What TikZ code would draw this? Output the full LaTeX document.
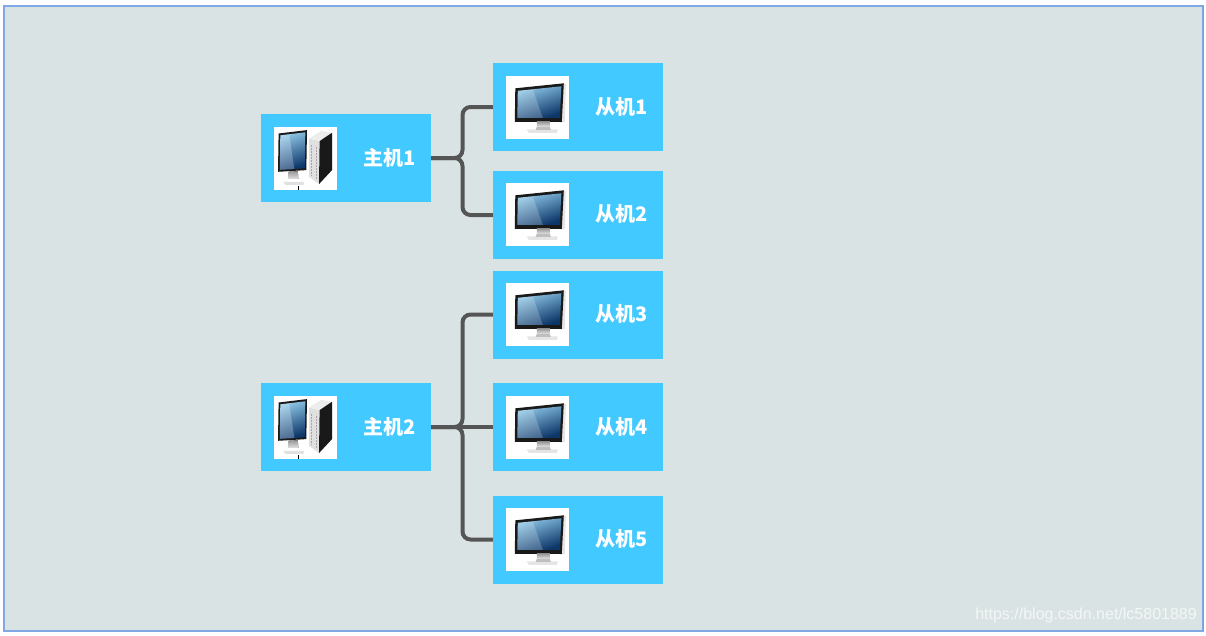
\documentclass[tikz,border=0pt]{standalone}
\usepackage{fontspec}
\newfontfamily\cjk{Noto Sans CJK SC}
\setsansfont{Liberation Sans}
\definecolor{paneback}{HTML}{DAE3E3}
\definecolor{paneline}{HTML}{7FA8E4}
\definecolor{boxblue}{HTML}{42C9FF}
\definecolor{linkgray}{HTML}{555555}
\definecolor{screenlight}{HTML}{8CC4E4}
\definecolor{screendark}{HTML}{0C3568}
\tikzset{
	hostbox/.style={fill=boxblue, minimum width=170pt, minimum height=88pt, inner sep=0pt},
	iconbox/.style={fill=white, minimum width=63pt, minimum height=63pt, inner sep=0pt},
	hostlabel/.style={text=white, inner sep=0pt, font=\cjk\bfseries\fontsize{20}{24}\selectfont},
	link/.style={draw=linkgray, line width=4pt, rounded corners=8pt},
	slavescreen/.pic={
		\fill [black!10] (54,9) -- (60,8) -- (59,46) -- (54,47) -- cycle;
		\fill [black!90] (9.5,12.5) -- (58,7.5) -- (56,46) -- (9,46) -- cycle;
		\fill [top color=black!40, bottom color=black!10] (31,46) -- (44,46) -- (44,51) -- (31,51) -- cycle;
		\fill [black!10] (21,53.5) -- (52,53.5) -- (51,57) -- (23,57) -- cycle;
		\fill [black!25] (31,51) -- (44,51) -- (45,54) -- (30,54) -- cycle;
		\shade [left color=screenlight, right color=screendark, shading angle=20]
			(12,15) -- (55.5,10.5) -- (54,42) -- (11.5,42) -- cycle;
		\fill [white, opacity=.2] (12,15) -- (27,13.5) -- (37,42) -- (11.5,42) -- cycle;
	},
	hostscreen/.pic={
		\fill [black!90] (5.3,6.7) -- (33.7,3.3) -- (33,43.3) -- (4.7,45) -- cycle;
		\shade [left color=screenlight, right color=screendark, shading angle=20]
			(7,8.5) -- (32,5.5) -- (31.5,41.5) -- (6.5,43) -- cycle;
		\fill [white, opacity=.25] (7,8.5) -- (16,7.5) -- (21,42.3) -- (6.5,43) -- cycle;
		\fill [top color=black!40, bottom color=black!12] (15,45) -- (24.5,44.5) -- (25,52) -- (15,52) -- cycle;
		\fill [black!12] (10,55) -- (31,55) -- (30,58) -- (12,58) -- cycle;
		\fill [black!12] (35.7,11.7) -- (46.3,14.3) -- (45.7,57.3) -- (35.7,50) -- cycle;
		\draw [black!35, line width=.7pt, dash pattern=on 2pt off 1pt] (38,18) -- (38,49);
		\draw [black!35, line width=.7pt, dash pattern=on 2pt off 1pt] (43,20) -- (43,52);
		\fill [black!7] (35.7,11.7) -- (48,4) -- (58.7,6) -- (46.3,14.3) -- cycle;
		\fill [black!90] (46.3,14.3) -- (58.7,6) -- (58.7,43.3) -- (45.7,57.3) -- cycle;
		\draw [black, line width=.8pt] (24.7,59) -- (24.7,63);
	}
}

\begin{document}
\begin{tikzpicture}[x=1pt, y=-1pt]
	\useasboundingbox (0,0) rectangle (1206,635);
	% pane
	\draw [fill=paneback, draw=paneline, line width=1.3pt] (4,6) rectangle (1203,631);
	\draw [black!40, line width=1pt] (1203,6) -- (1203,631);

	% boxes
	\node [hostbox] (host1) at (346,158) {};
	\node [hostbox] (host2) at (346,427) {};
	\node [hostbox] (slave1) at (578,107) {};
	\node [hostbox] (slave2) at (578,215) {};
	\node [hostbox] (slave3) at (578,314.5) {};
	\node [hostbox] (slave4) at (578,427) {};
	\node [hostbox] (slave5) at (578,539.5) {};

	% icons
	\node [iconbox] (icon1) at (305,158.5) {};
	\node [iconbox] (icon2) at (305,427.5) {};
	\node [iconbox] (icon3) at (537.5,107.5) {};
	\node [iconbox] (icon4) at (537.5,214.5) {};
	\node [iconbox] (icon5) at (537.5,314.5) {};
	\node [iconbox] (icon6) at (537.5,427.5) {};
	\node [iconbox] (icon7) at (537.5,539.5) {};
	\pic at (icon1.north west) {hostscreen};
	\pic at (icon2.north west) {hostscreen};
	\pic at (icon3.north west) {slavescreen};
	\pic at (icon4.north west) {slavescreen};
	\pic at (icon5.north west) {slavescreen};
	\pic at (icon6.north west) {slavescreen};
	\pic at (icon7.north west) {slavescreen};

	% labels
	\node [hostlabel] (name1) at (389.5,158) {主机1};
	\node [hostlabel] (name2) at (389.5,427) {主机2};
	\node [hostlabel] (name3) at (621.5,107) {从机1};
	\node [hostlabel] (name4) at (621.5,214) {从机2};
	\node [hostlabel] (name5) at (621.5,314) {从机3};
	\node [hostlabel] (name6) at (621.5,427) {从机4};
	\node [hostlabel] (name7) at (621.5,539) {从机5};

	% links
	\coordinate (bus1) at (462.5,158);
	\coordinate (bus2) at (462.5,427);
	\draw [link] (host1.east) -- (bus1) |- (slave1.west);
	\draw [link] (host1.east) -- (bus1) |- (slave2.west);
	\draw [link] (host2.east) -- (bus2) |- (slave3.west);
	\draw [link] (host2.east) -- (slave4.west);
	\draw [link] (host2.east) -- (bus2) |- (slave5.west);

	\node [text=white, opacity=.7, inner sep=0pt, font=\sffamily\fontsize{16}{20}\selectfont] (mark) at (1086,615.5) {https://blog.csdn.net/lc5801889};
\end{tikzpicture}
\end{document}
